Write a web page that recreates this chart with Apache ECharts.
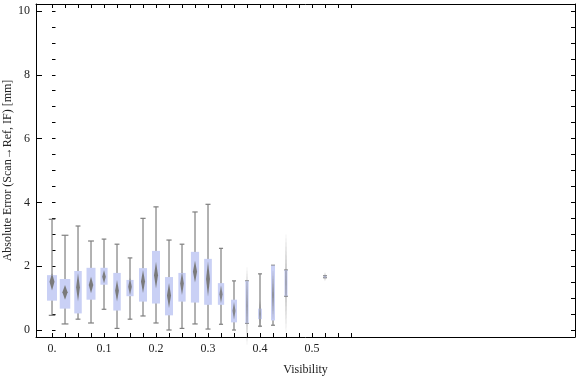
<!DOCTYPE html>
<html>
<head>
<meta charset="utf-8">
<script src="https://cdn.jsdelivr.net/npm/echarts@6/dist/echarts.min.js"></script>
<style>
  html, body { margin: 0; padding: 0; background: #fff; }
  #main { width: 576px; height: 377px; }
</style>
</head>
<body>
<div id="main"></div>
<script>
// visibility bins (box centres)
const visibility = [0, 0.025, 0.05, 0.075, 0.1, 0.125, 0.15, 0.175, 0.2, 0.225, 0.25, 0.275,
    0.3, 0.325, 0.35, 0.375, 0.4, 0.425, 0.45, 0.525];
// whisker ends, quartiles, median
const whiskerLow = [0.46, 0.19, 0.34, 0.22, 0.65, 0.05, 0.34, 0.44, 0.22, 0.0, 0.05, 0.19,
    0.03, 0.18, 0.0, 0.21, 0.12, 0.15, 1.06, 1.64];
const q1 = [0.92, 0.67, 0.52, 0.95, 1.42, 0.61, 1.06, 0.89, 0.83, 0.46, 0.89, 0.86,
    0.79, 0.79, 0.24, 0.21, 0.34, 0.30, 1.06, 1.64];
const median = [1.51, 1.18, 1.34, 1.41, 1.67, 1.23, 1.36, 1.52, 1.72, 1.08, 1.46, 1.83,
    1.6, 1.12, 0.6, 0.75, 0.5, 1.1, 1.47, 1.67];
const q3 = [1.72, 1.60, 1.85, 1.95, 1.95, 1.79, 1.57, 1.94, 2.48, 1.66, 1.79, 2.45,
    2.23, 1.47, 0.95, 1.54, 0.67, 2.02, 1.88, 1.70];
const whiskerHigh = [3.47, 2.97, 3.26, 2.79, 2.85, 2.69, 2.26, 3.50, 3.86, 2.82, 2.69, 3.70,
    3.94, 2.56, 1.54, 1.54, 1.76, 2.03, 1.88, 1.70];
// half height of the median diamond
const medianSpread = [0.27, 0.23, 0.45, 0.26, 0.21, 0.34, 0.27, 0.36, 0.42, 0.39, 0.36, 0.34,
    0.55, 0.28, 0.28, 1.25, 0.45, 0.8, 1.6, 0.14];
// box width (x units, grows with sample count)
const boxWidth = [0.0192, 0.0202, 0.0144, 0.0173, 0.0138, 0.0144, 0.0138, 0.0154, 0.0154, 0.0154, 0.014, 0.0158,
    0.0148, 0.0121, 0.0115, 0.0063, 0.0073, 0.0077, 0.0058, 0.0048];

const xTickValues = [0, 0.1, 0.2, 0.3, 0.4, 0.5];
const xTickLabels = ['0.', '0.1', '0.2', '0.3', '0.4', '0.5'];
const yTickValues = [0, 2, 4, 6, 8, 10];
const yTickLabels = ['0', '2', '4', '6', '8', '10'];

let xMinor = [];
for (let k = 0; k <= 23; k++) xMinor.push(+(k * 0.025).toFixed(3));
let yMinor = [];
for (let k = 0; k <= 20; k++) yMinor.push(k * 0.5);

const data = visibility.map(function (v, i) {
    return [v, whiskerLow[i], q1[i], median[i], q3[i], whiskerHigh[i], medianSpread[i], boxWidth[i]];
});

const FONT = 'Liberation Serif';
const XMIN = -0.0308, XMAX = 1.0058;
const YMIN = -0.219, YMAX = 10.219;

function renderBox(params, api) {
    const x = api.value(0);
    const w = api.size([api.value(7), 0])[0];
    const pLo = api.coord([x, api.value(1)]);
    const pQ1 = api.coord([x, api.value(2)]);
    const pMed = api.coord([x, api.value(3)]);
    const pQ3 = api.coord([x, api.value(4)]);
    const pHi = api.coord([x, api.value(5)]);
    const spread = api.size([0, api.value(6)])[1];
    const cap = Math.max(4, w * 0.65) / 2;
    const dw = w * 0.25;
    const gray = '#7f7f7f';
    return {
        type: 'group',
        children: [
            { type: 'line', shape: { x1: pLo[0], y1: pLo[1], x2: pHi[0], y2: pHi[1] }, style: { stroke: gray, lineWidth: 1.2 } },
            { type: 'line', shape: { x1: pHi[0] - cap, y1: pHi[1], x2: pHi[0] + cap, y2: pHi[1] }, style: { stroke: gray, lineWidth: 1.2 } },
            { type: 'line', shape: { x1: pLo[0] - cap, y1: pLo[1], x2: pLo[0] + cap, y2: pLo[1] }, style: { stroke: gray, lineWidth: 1.2 } },
            { type: 'rect', shape: { x: pQ3[0] - w / 2, y: pQ3[1], width: w, height: Math.max(pQ1[1] - pQ3[1], 1) }, style: { fill: '#c9d0f5' } },
            {
                type: 'polygon',
                shape: { points: [[pMed[0], pMed[1] - spread], [pMed[0] + dw, pMed[1]], [pMed[0], pMed[1] + spread], [pMed[0] - dw, pMed[1]]] },
                style: { fill: '#7a7a7a', opacity: Math.min(1, 0.45 + w / 14) }
            }
        ]
    };
}

const labelStyle = { color: '#222', fontFamily: FONT, fontSize: 12 };
const lineBlack = { color: '#000', width: 1 };

var chart = echarts.init(document.getElementById('main'));
var option = {
    animation: false,
    backgroundColor: '#fff',
    grid: { left: 36, top: 4, right: 1, bottom: 40, containLabel: false, outerBoundsMode: 'none' },
    xAxis: [{
        type: 'value', position: 'bottom', min: XMIN, max: XMAX,
        axisLine: { show: true, onZero: false, lineStyle: lineBlack },
        axisTick: { show: true, inside: true, length: 4, customValues: xMinor, lineStyle: lineBlack },
        axisLabel: {
            show: true, customValues: xTickValues, margin: 6,
            formatter: function (v) {
                const i = xTickValues.findIndex(function (t) { return Math.abs(t - v) < 1e-6; });
                return i >= 0 ? xTickLabels[i] : '';
            },
            ...labelStyle
        },
        splitLine: { show: false },
        name: 'Visibility', nameLocation: 'middle', nameGap: 27, nameMoveOverlap: false,
        nameTextStyle: labelStyle
    }, {
        type: 'value', position: 'top', min: XMIN, max: XMAX,
        axisLine: { show: true, onZero: false, lineStyle: lineBlack },
        axisTick: { show: true, inside: true, length: 4, customValues: xMinor, lineStyle: lineBlack },
        axisLabel: { show: false },
        splitLine: { show: false }
    }],
    yAxis: [{
        type: 'value', position: 'left', min: YMIN, max: YMAX,
        axisLine: { show: true, onZero: false, lineStyle: lineBlack },
        axisTick: { show: true, inside: true, length: 6, customValues: yTickValues, lineStyle: lineBlack },
        axisLabel: {
            show: true, customValues: yTickValues, margin: 6,
            formatter: function (v) {
                const i = yTickValues.indexOf(Math.round(v));
                return i >= 0 ? yTickLabels[i] : '';
            },
            ...labelStyle
        },
        splitLine: { show: false },
        name: 'Absolute Error (Scan→Ref, IF) [mm]', nameLocation: 'middle', nameGap: 22, nameMoveOverlap: false,
        nameTextStyle: labelStyle
    }, {
        type: 'value', position: 'left', min: YMIN, max: YMAX,
        axisLine: { show: false },
        axisTick: { show: true, inside: true, length: 3.5, customValues: yMinor, lineStyle: lineBlack },
        axisLabel: { show: false },
        splitLine: { show: false }
    }, {
        type: 'value', position: 'right', min: YMIN, max: YMAX,
        axisLine: { show: true, onZero: false, lineStyle: lineBlack },
        axisTick: { show: true, inside: true, length: 4, customValues: yMinor, lineStyle: lineBlack },
        axisLabel: { show: false },
        splitLine: { show: false }
    }],
    series: [{
        type: 'custom',
        xAxisIndex: 0,
        yAxisIndex: 0,
        clip: false,
        renderItem: renderBox,
        data: data
    }]
};
chart.setOption(option);
</script>
</body>
</html>
